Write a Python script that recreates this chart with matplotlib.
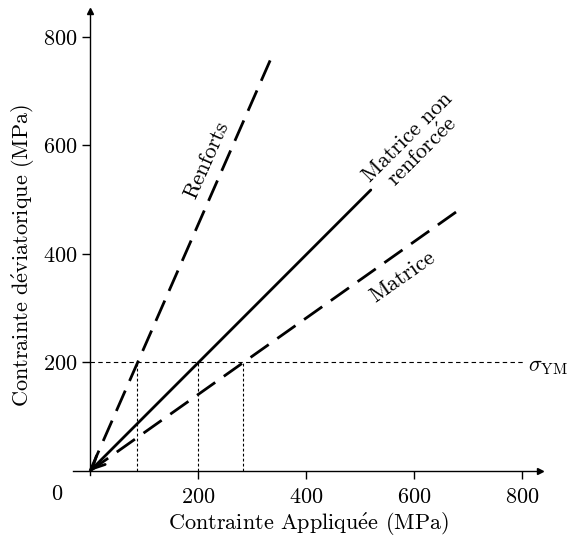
import matplotlib
matplotlib.use("Agg")
import matplotlib.pyplot as plt

plt.rcParams["font.family"] = ["cmr10", "DejaVu Serif"]
plt.rcParams["mathtext.fontset"] = "cm"
plt.rcParams["axes.formatter.use_mathtext"] = True

# lines from origin (MPa)
renforts_x = [0, 335]
renforts_y = [0, 760]
matrice_nr_x = [0, 520]
matrice_nr_y = [0, 518]
matrice_x = [0, 683]
matrice_y = [0, 481]

sigma_ym = 200
yield_x = [87, 200, 283]   # contrainte appliquée where each line reaches sigma_YM
ticks = [200, 400, 600, 800]

FS = 16

fig = plt.figure(figsize=(5.7, 5.42), dpi=100)
ax = fig.add_axes([0, 0, 1, 1])
ax.set_xlim(-166.7, 888.9)
ax.set_ylim(-130.9, 868.2)

for s in ("top", "right"):
    ax.spines[s].set_visible(False)
for s in ("left", "bottom"):
    ax.spines[s].set_position(("data", 0))
    ax.spines[s].set_linewidth(1.0)
ax.spines["left"].set_bounds(-8, 845)
ax.spines["bottom"].set_bounds(-31, 830)
ax.plot(833, 0, marker=">", ms=5, color="black", clip_on=False)
ax.plot(0, 848, marker="^", ms=5, color="black", clip_on=False)

ax.set_xticks(ticks)
ax.set_yticks(ticks)
ax.tick_params(axis="both", direction="out", length=6, width=1.0, labelsize=FS)
ax.tick_params(axis="x", pad=6)
ax.tick_params(axis="y", pad=3)
ax.text(-61, -42, "0", fontsize=FS, ha="center", va="center")

# sigma_YM level and projections
ax.plot([0, 805], [sigma_ym, sigma_ym], color="black", lw=0.8, dashes=(4, 3))
for x in yield_x:
    ax.plot([x, x], [0, sigma_ym], color="black", lw=0.8, dashes=(2.5, 2))
ax.text(812, 192, r"$\sigma_{\mathrm{YM}}$", fontsize=FS, ha="left", va="center")

ax.plot(renforts_x, renforts_y, color="black", lw=2.0, dashes=(8, 3.8))
ax.plot(matrice_x, matrice_y, color="black", lw=2.0, dashes=(8, 3.8))
ax.annotate("", xy=(matrice_nr_x[0], matrice_nr_y[0]), xytext=(matrice_nr_x[1], matrice_nr_y[1]),
            arrowprops=dict(arrowstyle="->", lw=2.0, color="black", shrinkA=0, shrinkB=0,
                            mutation_scale=22))

ax.text(216, 573, "Renforts", fontsize=FS, rotation=66, ha="center", va="center")
ax.text(602, 601, "Matrice non\n" + r"renforc$\acute{\mathrm{e}}$e", fontsize=FS, rotation=45,
        ha="center", va="center", multialignment="center", linespacing=1.0)
ax.text(578, 357, "Matrice", fontsize=FS, rotation=35, ha="center", va="center")

ax.text(405, -98, r"Contrainte Appliqu$\acute{\mathrm{e}}$e (MPa)", fontsize=FS,
        ha="center", va="center")
ax.text(-124, 398, r"Contrainte d$\acute{\mathrm{e}}$viatorique (MPa)", fontsize=FS,
        rotation=90, ha="center", va="center")

fig.savefig("out.png", dpi=100)
